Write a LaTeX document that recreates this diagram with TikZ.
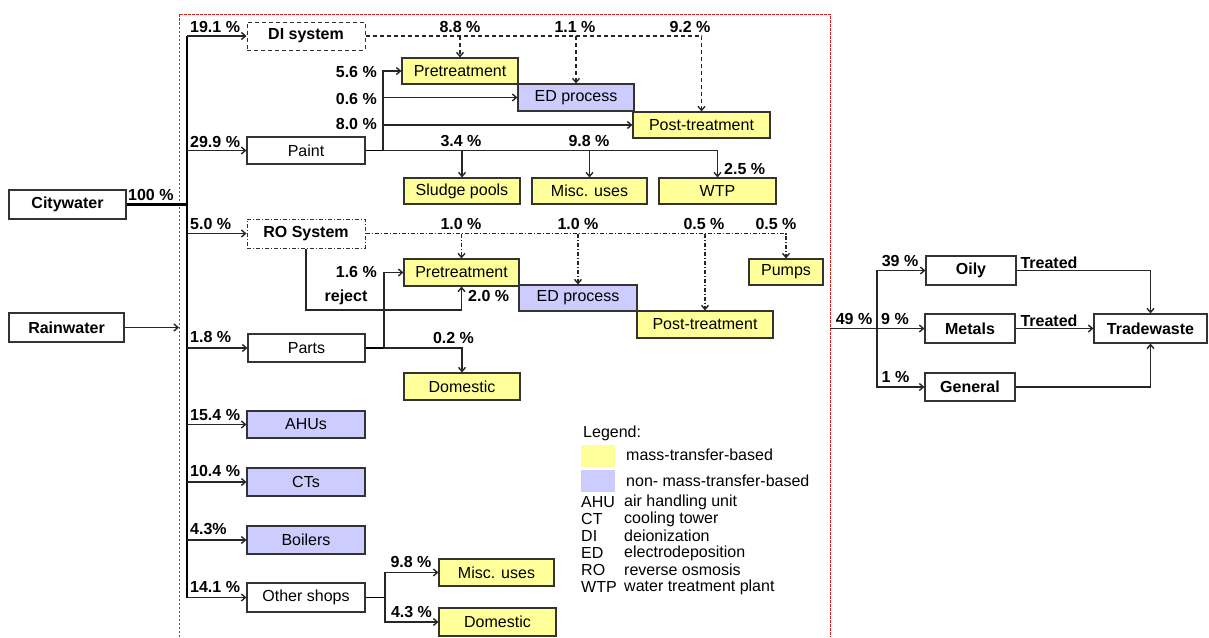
\documentclass[tikz,border=0pt]{standalone}
\usepackage{fontspec}
\setmainfont{Liberation Sans}
\usetikzlibrary{arrows.meta}
\definecolor{mtyellow}{HTML}{FFFF99}
\definecolor{nmtblue}{HTML}{CCCCFF}
\definecolor{edgegray}{HTML}{333333}
\definecolor{framered}{HTML}{DD2222}
% box given by its corners: name, x1, y1, x2, y2, style, text
\newcommand\flowbox[7]{\node[#6, minimum width={(#4-#2)*1pt}, minimum height={(#5-#3)*1pt}] (#1) at ({(#2+#4)/2},{(#3+#5)/2}) {#7};}
\tikzset{
  box/.style={draw=edgegray, line width=1.2pt, inner sep=0pt, font=\fontsize{16}{16}\selectfont},
  bbox/.style={box, font=\bfseries\fontsize{16}{16}\selectfont},
  ybox/.style={box, fill=mtyellow},
  pbox/.style={box, fill=nmtblue},
  dibox/.style={bbox, line width=1pt, dash pattern=on 4pt off 3pt},
  robox/.style={bbox, line width=1pt, dash pattern=on 4pt off 2pt on 1pt off 2pt},
  pct/.style={font=\bfseries\fontsize{16}{16}\selectfont, inner sep=0pt},
  leg/.style={font=\fontsize{16}{16}\selectfont, inner sep=0pt, anchor=west},
  conn/.style={draw=black!85, line width=1.1pt},
  arr/.style={conn, -{Straight Barb[length=4pt,width=7pt,line width=1.4pt]}},
  bus/.style={draw=black, line width=2.2pt},
  branch/.style={draw=black, line width=1.8pt},
  diline/.style={arr, dash pattern=on 4pt off 3pt},
  roline/.style={arr, dash pattern=on 4pt off 2pt on 1pt off 2pt},
}
\begin{document}
\begin{tikzpicture}[x=1pt,y=-1pt]
\useasboundingbox (0,0) rectangle (1209,637);

% plant boundary
\draw[framered, line width=0.8pt, dash pattern=on 2.5pt off 1.5pt]
  (179,637) -- (179,14) coordinate (frameL) -- (830,14) -- (830,637);

% sources
\flowbox{city}{9}{190}{126}{219}{bbox}{Citywater}
\flowbox{rain}{9}{313}{124}{342}{bbox}{Rainwater}

% units inside the plant
\flowbox{di}{247}{22}{365}{50}{dibox}{DI system}
\flowbox{paint}{247}{137}{365}{164}{box}{Paint}
\flowbox{pre1}{402}{58}{518}{84}{ybox}{Pretreatment}
\flowbox{ed1}{518}{84}{634}{111}{pbox}{ED process}
\flowbox{post1}{633}{112}{770}{138}{ybox}{Post-treatment}
\flowbox{sludge}{404}{178}{520}{204}{ybox}{Sludge pools}
\flowbox{misc1}{532}{178}{647}{204}{ybox}{Misc. uses}
\flowbox{wtp}{659}{178}{776}{204}{ybox}{WTP}
\flowbox{ro}{247}{219}{365}{248}{robox}{RO System}
\flowbox{pre2}{404}{259}{519}{286}{ybox}{Pretreatment}
\flowbox{ed2}{519}{285}{637}{311}{pbox}{ED process}
\flowbox{post2}{637}{311}{773}{338}{ybox}{Post-treatment}
\flowbox{pumps}{749}{259}{823}{285}{ybox}{Pumps}
\flowbox{parts}{248}{334}{365}{362}{box}{Parts}
\flowbox{dom1}{404}{373}{520}{400}{ybox}{Domestic}
\flowbox{ahu}{247}{411}{365}{438}{pbox}{AHUs}
\flowbox{ct}{247}{468}{365}{496}{pbox}{CTs}
\flowbox{boil}{247}{526}{365}{554}{pbox}{Boilers}
\flowbox{other}{247}{583}{365}{612}{box}{Other shops}
\flowbox{misc2}{439}{559}{554}{586}{ybox}{Misc. uses}
\flowbox{dom2}{439}{608}{556}{636}{ybox}{Domestic}

% wastewater
\flowbox{oily}{926}{256}{1016}{285}{bbox}{Oily}
\flowbox{metals}{925}{314}{1015}{343}{bbox}{Metals}
\flowbox{general}{925}{373}{1015}{401}{bbox}{General}
\flowbox{trade}{1094}{314}{1207}{343}{bbox}{Tradewaste}

% main distribution bus
\coordinate (bustop) at (187,36);
\coordinate (busbot) at (187,597.5);
\draw[bus] (bustop) -- (busbot);
\draw[bus] (city.east) -- (city.east -| bustop);
\foreach \n in {di,paint,ro,parts,ahu,ct,boil,other}
  \draw[arr] (\n.west -| bustop) -- (\n.west);
\draw[arr] (rain.east) -- (rain.east -| frameL);

% paint shop
\coordinate (pb) at (383,150.5);
\draw[branch] (paint.east) -- (pb);
\draw[arr] (pb) |- (pre1.west);
\draw[arr] (pb |- ed1.west) -- (ed1.west);
\draw[arr] (pb |- post1.west) -- (post1.west);
\draw[arr] (pb) -| (wtp.north);
\draw[arr] (sludge.north |- pb) -- (sludge.north);
\draw[arr] (misc1.north |- pb) -- (misc1.north);

% DI water
\draw[diline] (di.east) -| (post1.north);
\draw[diline] (pre1.north |- di.east) -- (pre1.north);
\draw[diline] (ed1.north |- di.east) -- (ed1.north);

% RO water
\draw[roline] (ro.east) -| (pumps.north);
\foreach \n in {pre2,ed2,post2}
  \draw[roline] (\n.north |- ro.east) -- (\n.north);
\coordinate (rj) at (306,310);
\draw[arr] (ro.south) -- (rj) -| (pre2.south);

% parts shop
\coordinate (pa) at (384,348);
\draw[branch] (parts.east) -- (pa);
\draw[arr] (pa) |- (pre2.west);
\draw[arr] (pa) -| (dom1.north);

% other shops
\coordinate (oa) at (385,597.5);
\draw[branch] (other.east) -- (oa);
\draw[arr] (oa) |- (misc2.west);
\draw[arr] (oa) |- (dom2.west);

% wastewater streams
\coordinate (wout) at (830,328.5);
\coordinate (wb) at (877,328.5);
\draw[arr] (wout) -- (metals.west);
\draw[arr] (wb) |- (oily.west);
\draw[arr] (wb) |- (general.west);
\draw[arr] (oily.east) -| (trade.north);
\draw[arr] (metals.east) -- (trade.west);
\draw[arr] (general.east) -| (trade.south);

% flow shares
\node[pct, anchor=west] (l100) at (128,195) {100 \%};
\node[pct, anchor=west] (l191) at (190,27) {19.1 \%};
\node[pct, anchor=west] (l299) at (190,142) {29.9 \%};
\node[pct, anchor=west] (l50) at (190,224) {5.0 \%};
\node[pct, anchor=west] (l18) at (190,337) {1.8 \%};
\node[pct, anchor=west] (l154) at (190,415) {15.4 \%};
\node[pct, anchor=west] (l104) at (190,471) {10.4 \%};
\node[pct, anchor=west] (l43b) at (190,529) {4.3\%};
\node[pct, anchor=west] (l141) at (190,587) {14.1 \%};
\node[pct, anchor=east] (l56) at (377,71.5) {5.6 \%};
\node[pct, anchor=east] (l06) at (377,98.5) {0.6 \%};
\node[pct, anchor=east] (l80) at (377,124) {8.0 \%};
\node[pct] (l88) at (460,26.5) {8.8 \%};
\node[pct] (l11) at (575,26.5) {1.1 \%};
\node[pct] (l92) at (690,26.5) {9.2 \%};
\node[pct] (l34) at (461,141) {3.4 \%};
\node[pct] (l98a) at (589,141) {9.8 \%};
\node[pct, anchor=west] (l25) at (724,169) {2.5 \%};
\node[pct] (l10a) at (461,223.5) {1.0 \%};
\node[pct] (l10b) at (578,223.5) {1.0 \%};
\node[pct] (l05a) at (704,224) {0.5 \%};
\node[pct] (l05b) at (776,224) {0.5 \%};
\node[pct, anchor=east] (l16) at (377,272) {1.6 \%};
\node[pct] (lrej) at (346,297) {reject};
\node[pct, anchor=west] (l20) at (468,296) {2.0 \%};
\node[pct] (l02) at (453.5,338) {0.2 \%};
\node[pct] (l98b) at (411,562) {9.8 \%};
\node[pct] (l43) at (411.5,612) {4.3 \%};
\node[pct] (l49) at (854,319) {49 \%};
\node[pct] (l9) at (895,319) {9 \%};
\node[pct] (l39) at (900,261) {39 \%};
\node[pct] (l1) at (895.5,377) {1 \%};
\node[pct] (ltr1) at (1049,263) {Treated};
\node[pct] (ltr2) at (1049,321) {Treated};

% legend
\node[leg] (legtitle) at (583,433) {Legend:};
\node[fill=mtyellow, inner sep=0pt, minimum width=34pt, minimum height=22pt] (sw1) at (598,456) {};
\node[fill=nmtblue, inner sep=0pt, minimum width=34pt, minimum height=22pt] (sw2) at (598,481) {};
\node[leg] (sw1t) at (626,455) {mass-transfer-based};
\node[leg] (sw2t) at (626,481) {non- mass-transfer-based};
\foreach \ab/\txt [count=\i from 0] in {AHU/air handling unit, CT/cooling tower, DI/deionization, ED/electrodeposition, RO/reverse osmosis, WTP/water treatment plant}{
  \node[leg] (ab\i) at (581,502+17*\i) {\ab};
  \node[leg] (abt\i) at (624,502+17*\i) {\txt};
}
\end{tikzpicture}
\end{document}
